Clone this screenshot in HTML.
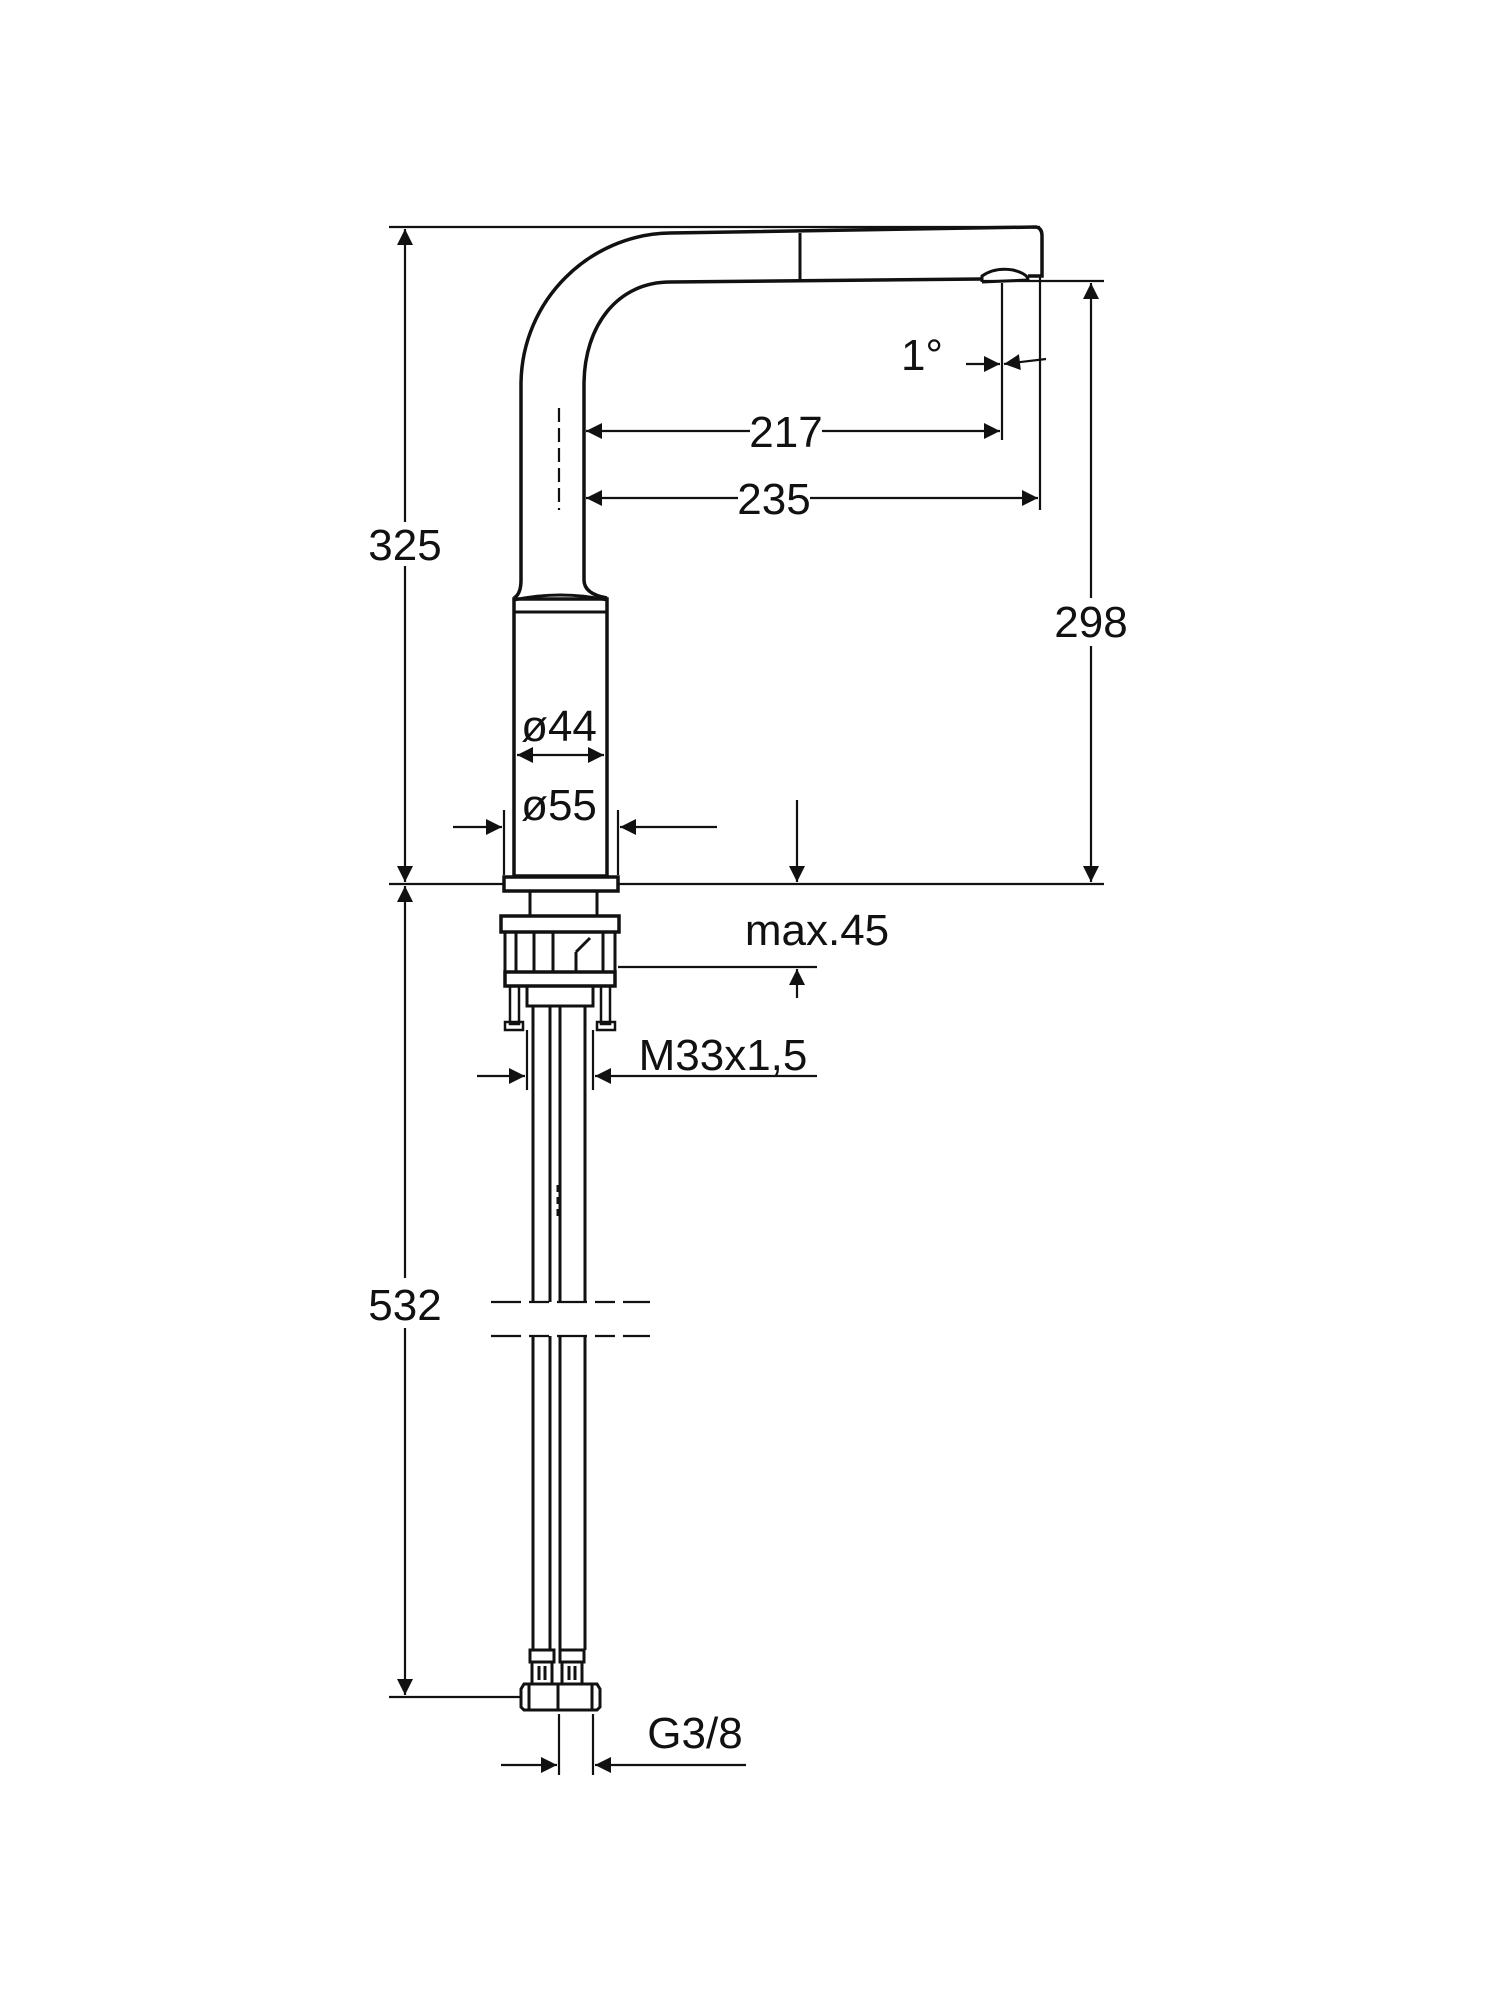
<!DOCTYPE html>
<html><head><meta charset="utf-8"><style>
html,body{margin:0;padding:0;background:#fff}
svg{display:block}
text{font-family:"Liberation Sans",sans-serif;font-size:44px;fill:#111}
</style></head><body>
<svg width="1500" height="2000" viewBox="0 0 1500 2000" xmlns="http://www.w3.org/2000/svg">
<defs>
<marker id="a" viewBox="0 0 10 10" refX="10" refY="5" markerWidth="34" markerHeight="16" markerUnits="userSpaceOnUse" orient="auto"><path d="M0,0 L10,5 L0,10 z" fill="#111"/></marker>
</defs>
<g stroke="#111" fill="none" stroke-width="2.2">
<!-- overall 325 dim -->
<line x1="389" y1="227" x2="1040" y2="227"/>
<line x1="405" y1="522" x2="405" y2="229" marker-end="url(#a)"/>
<line x1="405" y1="566" x2="405" y2="882" marker-end="url(#a)"/>
<!-- baseline -->
<line x1="389" y1="884" x2="504" y2="884"/>
<line x1="618" y1="884" x2="1104" y2="884"/>
<!-- 532 -->
<line x1="405" y1="1278" x2="405" y2="886" marker-end="url(#a)"/>
<line x1="405" y1="1328" x2="405" y2="1695" marker-end="url(#a)"/>
<line x1="389" y1="1697" x2="521" y2="1697"/>
<!-- 298 -->
<line x1="982" y1="281" x2="1104" y2="281"/>
<line x1="1091" y1="598" x2="1091" y2="283" marker-end="url(#a)"/>
<line x1="1091" y1="646" x2="1091" y2="882" marker-end="url(#a)"/>
<!-- spout -->
<path d="M521,580 L521,385 C521,300 590,234 670,233 L1036,227 Q1042,228 1042,236 L1042,276 L1028,276" stroke-width="3.5"/>
<path d="M584,580 L584,385 C584,325 618,282 670,282 L982,279" stroke-width="3.5"/>
<line x1="800" y1="233" x2="800" y2="281" stroke-width="3"/>
<path d="M982,282 L982,276 Q995,267 1013,270 Q1028,274 1028,280 L982,282" stroke-width="3"/>
<!-- transition to body -->
<path d="M521,580 Q521,594 514,598 M584,580 Q584,594 607,598" stroke-width="3.5"/>
<path d="M514,600 Q560,590 607,600" stroke-width="3"/>
<rect x="514" y="599" width="93" height="277" stroke-width="3.5"/>
<line x1="514" y1="612" x2="607" y2="612" stroke-width="3"/>
<rect x="504" y="877" width="114" height="14" stroke-width="3.5"/>
<!-- nozzle axis & 1° -->
<line x1="1002" y1="283" x2="1002" y2="440"/>
<line x1="1040" y1="276" x2="1040" y2="510"/>
<line x1="966" y1="364" x2="1000" y2="364" marker-end="url(#a)"/>
<line x1="1046" y1="359" x2="1004" y2="364" marker-end="url(#a)"/>
<!-- 217 / 235 -->
<line x1="559" y1="408" x2="559" y2="510" stroke-dasharray="14,6"/>
<line x1="750" y1="431" x2="586" y2="431" marker-end="url(#a)"/>
<line x1="822" y1="431" x2="1000" y2="431" marker-end="url(#a)"/>
<line x1="738" y1="498" x2="586" y2="498" marker-end="url(#a)"/>
<line x1="810" y1="498" x2="1038" y2="498" marker-end="url(#a)"/>
<!-- ø44 -->
<line x1="558" y1="755" x2="517" y2="755" marker-end="url(#a)"/>
<line x1="558" y1="755" x2="604" y2="755" marker-end="url(#a)"/>
<!-- ø55 -->
<line x1="504" y1="810" x2="504" y2="875"/>
<line x1="618" y1="810" x2="618" y2="875"/>
<line x1="453" y1="827" x2="502" y2="827" marker-end="url(#a)"/>
<line x1="717" y1="827" x2="620" y2="827" marker-end="url(#a)"/>
<!-- max.45 -->
<line x1="797" y1="800" x2="797" y2="882" marker-end="url(#a)"/>
<line x1="618" y1="967" x2="817" y2="967"/>
<line x1="797" y1="998" x2="797" y2="969" marker-end="url(#a)"/>
<!-- nut assembly -->
<rect x="530" y="891" width="67" height="25" stroke-width="3"/>
<rect x="501" y="916" width="118" height="16" stroke-width="3.5"/>
<rect x="505" y="932" width="110" height="40" stroke-width="3"/>
<line x1="516" y1="932" x2="516" y2="972" stroke-width="3"/>
<line x1="534" y1="932" x2="534" y2="972" stroke-width="3"/>
<line x1="553" y1="932" x2="553" y2="972" stroke-width="3"/>
<line x1="576" y1="952" x2="576" y2="972" stroke-width="3"/>
<line x1="603" y1="932" x2="603" y2="972" stroke-width="3"/>
<path d="M576,952 L590,938" stroke-width="3"/>
<rect x="505" y="972" width="110" height="14" stroke-width="3.5"/>
<rect x="527" y="986" width="66" height="20" stroke-width="3"/>
<rect x="510" y="986" width="9" height="38" stroke-width="2.5"/>
<rect x="601" y="986" width="9" height="38" stroke-width="2.5"/>
<rect x="505" y="1022" width="18" height="8" stroke-width="2.5"/>
<rect x="597" y="1022" width="18" height="8" stroke-width="2.5"/>
<!-- pipes -->
<g stroke-width="3">
<line x1="533" y1="1006" x2="533" y2="1302"/>
<line x1="550" y1="1006" x2="550" y2="1302"/>
<line x1="560" y1="1006" x2="560" y2="1302"/>
<line x1="585" y1="1006" x2="585" y2="1302"/>
<line x1="533" y1="1336" x2="533" y2="1650"/>
<line x1="550" y1="1336" x2="550" y2="1650"/>
<line x1="560" y1="1336" x2="560" y2="1650"/>
<line x1="585" y1="1336" x2="585" y2="1650"/>
</g>
<line x1="559" y1="1185" x2="559" y2="1220" stroke-width="5" stroke-dasharray="7,5"/>
<!-- M33 -->
<line x1="527" y1="1030" x2="527" y2="1090"/>
<line x1="593" y1="1030" x2="593" y2="1090"/>
<line x1="477" y1="1076" x2="525" y2="1076" marker-end="url(#a)"/>
<line x1="817" y1="1076" x2="595" y2="1076" marker-end="url(#a)"/>
<!-- break lines -->
<line x1="491" y1="1302" x2="650" y2="1302" stroke-dasharray="30,8,20,8"/>
<line x1="491" y1="1336" x2="650" y2="1336" stroke-dasharray="30,8,20,8"/>
<!-- fittings -->
<g stroke-width="3">
<rect x="530" y="1650" width="24" height="12"/>
<rect x="560" y="1650" width="24" height="12"/>
<rect x="532" y="1662" width="20" height="22"/>
<rect x="562" y="1662" width="20" height="22"/>
<line x1="539" y1="1666" x2="539" y2="1680"/><line x1="545" y1="1666" x2="545" y2="1680"/>
<line x1="569" y1="1666" x2="569" y2="1680"/><line x1="575" y1="1666" x2="575" y2="1680"/>
<path d="M524,1684 L597,1684 L600,1689 L600,1707 L597,1710 L524,1710 L521,1707 L521,1689 Z"/>
<line x1="558" y1="1684" x2="558" y2="1710"/>
<line x1="529" y1="1684" x2="529" y2="1710"/>
<line x1="592" y1="1684" x2="592" y2="1710"/>
</g>
<!-- G3/8 -->
<line x1="559" y1="1714" x2="559" y2="1775"/>
<line x1="593" y1="1714" x2="593" y2="1775"/>
<line x1="501" y1="1765" x2="557" y2="1765" marker-end="url(#a)"/>
<line x1="746" y1="1765" x2="595" y2="1765" marker-end="url(#a)"/>
</g>
<g>
<text x="405" y="560" text-anchor="middle">325</text>
<text x="1091" y="637" text-anchor="middle">298</text>
<text x="405" y="1320" text-anchor="middle">532</text>
<text x="922" y="370" text-anchor="middle">1°</text>
<text x="786" y="447" text-anchor="middle">217</text>
<text x="774" y="514" text-anchor="middle">235</text>
<text x="559" y="741" text-anchor="middle">ø44</text>
<text x="559" y="820" text-anchor="middle">ø55</text>
<text x="817" y="945" text-anchor="middle">max.45</text>
<text x="723" y="1070" text-anchor="middle">M33x1,5</text>
<text x="695" y="1748" text-anchor="middle">G3/8</text>
</g>
</svg>
</body></html>
